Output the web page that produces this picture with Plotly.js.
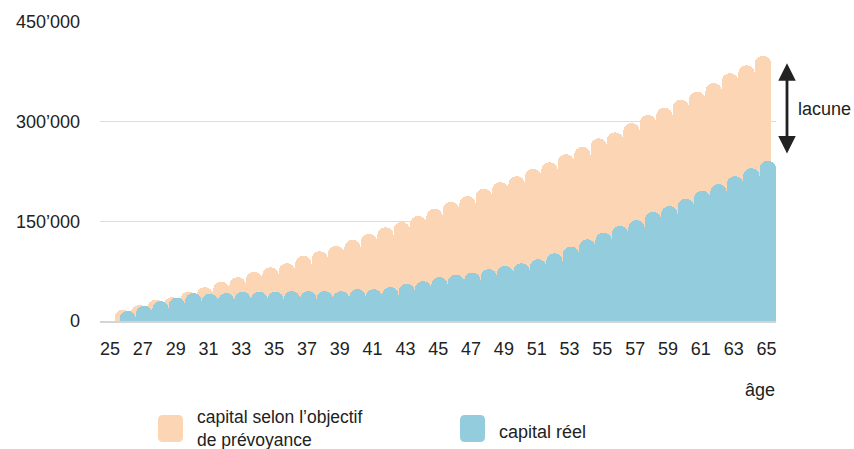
<!DOCTYPE html>
<html>
<head>
<meta charset="utf-8">
<script src="https://cdn.plot.ly/plotly-3.0.1.min.js"></script>
<style>
  html, body { margin: 0; padding: 0; background: #ffffff; }
  #chart { width: 854px; height: 449px; }
</style>
</head>
<body>
<div id="chart"></div>
<script>
// ---- data ----
const ages = [25,26,27,28,29,30,31,32,33,34,35,36,37,38,39,40,41,42,43,44,45,
              46,47,48,49,50,51,52,53,54,55,56,57,58,59,60,61,62,63,64,65];
const capitalObjectif = [0,17000,24000,32000,36000,44000,51000,59000,66000,74000,81000,
  87000,98000,105000,113000,122000,131000,141000,149000,158000,169000,
  179000,188000,199000,209000,218000,229000,239000,251000,262000,275000,
  284000,298000,310000,321000,333000,345000,358000,373000,385000,399000];
const capitalReel = [0,15000,23000,30000,35000,42000,41000,42000,44000,44000,44000,
  45000,45000,45000,45000,48000,48000,51000,56000,60000,66000,
  70000,73000,78000,83000,87000,93000,102000,112000,123000,133000,
  143000,152000,164000,173000,184000,196000,206000,218000,230000,241000];
const yTickVals = [0, 150000, 300000, 450000];
const yTickText = ['0', '150’000', '300’000', '450’000'];
const xTickVals = [25,27,29,31,33,35,37,39,41,43,45,47,49,51,53,55,57,59,61,63,65];
const seriesNames = ['capital selon l’objectif<br>de prévoyance', 'capital réel'];
const gapLabel = 'lacune';
const xTitle = 'âge';

// ---- style ----
const ORANGE = '#FBD5B4';
const BLUE = '#93CCDC';
const TEXT = '#222222';
const FONT = 'Liberation Sans, Arial, sans-serif';

// plot area in pixels (for positioning helper shapes/annotations)
const L = 100, R = 776, T = 22, B = 321;
const px2x = p => (p - L) / (R - L);
const py2y = p => (B - p) / (B - T);

function roundedRect(x0, y0, x1, y1, r) {
  const X = px2x, Y = py2y;
  return 'M' + X(x0 + r) + ',' + Y(y0) +
    ' L' + X(x1 - r) + ',' + Y(y0) +
    ' Q' + X(x1) + ',' + Y(y0) + ' ' + X(x1) + ',' + Y(y0 + r) +
    ' L' + X(x1) + ',' + Y(y1 - r) +
    ' Q' + X(x1) + ',' + Y(y1) + ' ' + X(x1 - r) + ',' + Y(y1) +
    ' L' + X(x0 + r) + ',' + Y(y1) +
    ' Q' + X(x0) + ',' + Y(y1) + ' ' + X(x0) + ',' + Y(y1 - r) +
    ' L' + X(x0) + ',' + Y(y0 + r) +
    ' Q' + X(x0) + ',' + Y(y0) + ' ' + X(x0 + r) + ',' + Y(y0) + ' Z';
}

const traces = [
  {
    type: 'bar', x: ages, y: capitalObjectif, name: seriesNames[0],
    marker: { color: ORANGE, line: { width: 0 } },
    width: 1.0, offset: -0.72, hoverinfo: 'x+y', showlegend: false
  },
  {
    type: 'bar', x: ages, y: capitalReel, name: seriesNames[1],
    marker: { color: BLUE, line: { width: 0 } },
    width: 1.0, offset: -0.42, hoverinfo: 'x+y', showlegend: false
  }
];

const layout = {
  width: 854, height: 449,
  margin: { l: L, r: 854 - R, t: T, b: 449 - B, pad: 0 },
  paper_bgcolor: '#ffffff', plot_bgcolor: '#ffffff',
  font: { family: FONT, size: 18, color: TEXT },
  barmode: 'overlay',
  bargap: 0,
  barcornerradius: '50%',
  showlegend: false,
  xaxis: {
    range: [24.39, 65.58],
    tickmode: 'array', tickvals: xTickVals, ticktext: xTickVals.map(String),
    showgrid: false, zeroline: false,
    showline: true, linecolor: '#d4d4d4', linewidth: 2,
    ticks: '', ticklabelstandoff: 10,
    tickfont: { family: FONT, size: 18, color: TEXT },
    fixedrange: true
  },
  yaxis: {
    range: [0, 450000],
    tickmode: 'array', tickvals: yTickVals, ticktext: yTickText,
    showgrid: true, gridcolor: '#dddddd', gridwidth: 1.5,
    zeroline: false, showline: false,
    ticks: '', ticklabelstandoff: 19,
    tickfont: { family: FONT, size: 18, color: TEXT },
    fixedrange: true
  },
  shapes: [
    { type: 'path', xref: 'paper', yref: 'paper', path: roundedRect(158, 415, 183, 442, 5),
      fillcolor: ORANGE, line: { width: 0 } },
    { type: 'path', xref: 'paper', yref: 'paper', path: roundedRect(460, 415, 485, 442, 5),
      fillcolor: BLUE, line: { width: 0 } }
  ],
  annotations: [
    { xref: 'paper', yref: 'paper', x: px2x(760), y: py2y(390), text: xTitle,
      showarrow: false, xanchor: 'center', yanchor: 'middle',
      font: { family: FONT, size: 18, color: TEXT } },
    { xref: 'paper', yref: 'paper', x: px2x(796), y: py2y(109), text: gapLabel,
      showarrow: false, xanchor: 'left', yanchor: 'middle',
      font: { family: FONT, size: 18, color: TEXT } },
    { xref: 'paper', yref: 'y', x: px2x(787), y: 388000,
      axref: 'pixel', ax: 0, ayref: 'y', ay: 250000,
      text: '', showarrow: true, arrowside: 'end+start',
      arrowhead: 2, startarrowhead: 2, arrowsize: 1.25, startarrowsize: 1.25,
      arrowwidth: 2.8, arrowcolor: TEXT, standoff: 0, startstandoff: 0 },
    { xref: 'paper', yref: 'paper', x: px2x(195), y: py2y(428), text: seriesNames[0],
      showarrow: false, xanchor: 'left', yanchor: 'middle', align: 'left',
      font: { family: FONT, size: 17.5, color: TEXT } },
    { xref: 'paper', yref: 'paper', x: px2x(497), y: py2y(432), text: seriesNames[1],
      showarrow: false, xanchor: 'left', yanchor: 'middle', align: 'left',
      font: { family: FONT, size: 18, color: TEXT } }
  ]
};

Plotly.newPlot('chart', traces, layout, { staticPlot: true, displayModeBar: false });
</script>
</body>
</html>
